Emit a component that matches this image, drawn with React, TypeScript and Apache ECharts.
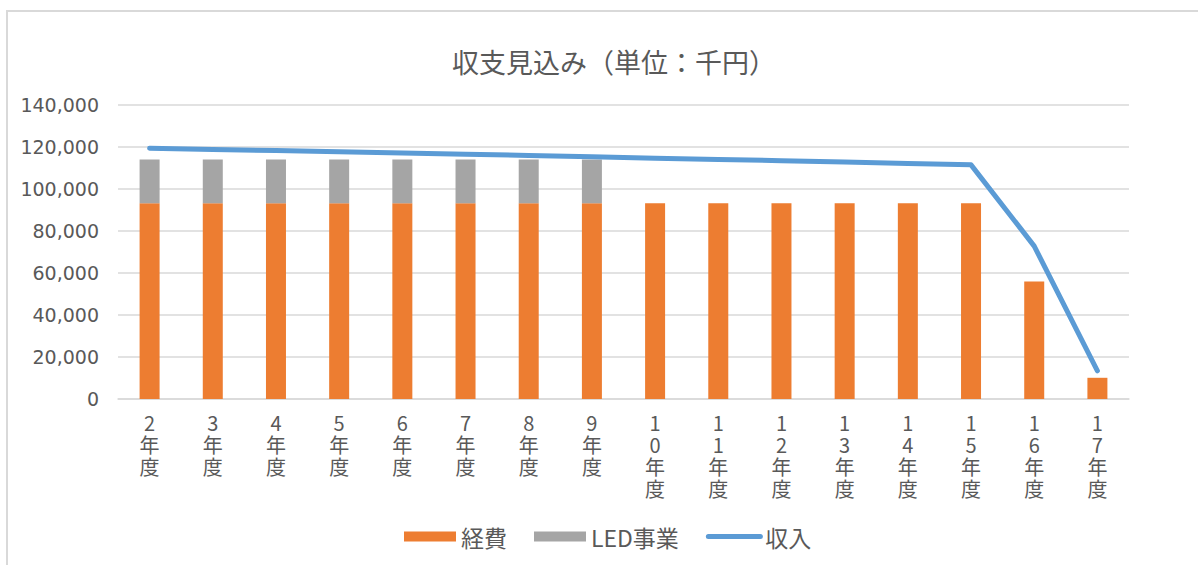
import React, { useEffect, useRef } from "react";
import * as echarts from "echarts";

const categories = [
  "2年度", "3年度", "4年度", "5年度", "6年度", "7年度", "8年度", "9年度",
  "10年度", "11年度", "12年度", "13年度", "14年度", "15年度", "16年度", "17年度",
];
const expenses = [
  93200, 93200, 93200, 93200, 93200, 93200, 93200, 93200,
  93200, 93200, 93200, 93200, 93200, 93200, 56000, 10100,
];
const ledBusiness = [
  20800, 20800, 20800, 20800, 20800, 20800, 20800, 20800,
  null, null, null, null, null, null, null, null,
];
const income = [
  119400, 118800, 118300, 117700, 117100, 116500, 116000, 115400,
  114700, 114100, 113500, 112900, 112200, 111500, 72800, 13400,
];
const seriesNames = ["経費", "LED事業", "収入"];
const titleText = "収支見込み（単位：千円）";

const FONT = "'Noto Sans CJK JP', Roboto, sans-serif";
const TEXT = "#595959";
const GRID = "#d9d9d9";

export default function App() {
  const ref = useRef<HTMLDivElement>(null);
  useEffect(() => {
    if (!ref.current) return;
    const chart = echarts.init(ref.current, undefined, { renderer: "svg" });
    chart.setOption({
      animation: false,
      backgroundColor: "#ffffff",
      textStyle: { fontFamily: FONT },
      title: {
        text: titleText,
        left: 609,
        textAlign: "center",
        top: 43,
        textStyle: { fontFamily: FONT, fontSize: 27, fontWeight: "normal", color: TEXT },
      },
      graphic: [
        { type: "line", shape: { x1: 6, y1: 11, x2: 1198, y2: 11 }, style: { stroke: GRID, lineWidth: 2 } },
        { type: "line", shape: { x1: 7, y1: 11, x2: 7, y2: 565 }, style: { stroke: GRID, lineWidth: 2 } },
      ],
      legend: {
        left: 399,
        top: 520,
        itemWidth: 52,
        itemHeight: 10,
        itemGap: 27,
        textStyle: { fontFamily: FONT, fontSize: 23, color: TEXT },
        data: [
          { name: seriesNames[0], icon: "rect" },
          { name: seriesNames[1], icon: "rect" },
          {
            name: seriesNames[2],
            itemStyle: { opacity: 0 },
            lineStyle: { width: 5, color: "#5b9bd5", cap: "round" },
          },
        ],
      },
      grid: { left: 118, right: 69, top: 105, bottom: 166, containLabel: false },
      xAxis: {
        type: "category",
        data: categories,
        axisLine: { show: true, lineStyle: { color: GRID, width: 1.5 } },
        axisTick: { show: false },
        axisLabel: {
          interval: 0,
          margin: 12,
          color: TEXT,
          fontFamily: FONT,
          fontSize: 20,
          lineHeight: 22,
          formatter: (v: string) => v.split("").join("\n"),
        },
      },
      yAxis: {
        type: "value",
        min: 0,
        max: 140000,
        interval: 20000,
        axisLine: { show: false },
        axisTick: { show: false },
        splitLine: { lineStyle: { color: GRID, width: 1.5 } },
        axisLabel: {
          margin: 19,
          color: TEXT,
          fontFamily: "'DejaVu Sans', sans-serif",
          fontSize: 19,
          formatter: (v: number) => v.toString().replace(/\B(?=(\d{3})+(?!\d))/g, ","),
        },
      },
      series: [
        {
          name: seriesNames[0],
          type: "bar",
          stack: "total",
          data: expenses,
          barWidth: 20,
          itemStyle: { color: "#ed7d31" },
        },
        {
          name: seriesNames[1],
          type: "bar",
          stack: "total",
          data: ledBusiness,
          barWidth: 20,
          itemStyle: { color: "#a5a5a5" },
        },
        {
          name: seriesNames[2],
          type: "line",
          data: income,
          symbol: "none",
          lineStyle: { color: "#5b9bd5", width: 5, cap: "round", join: "round" },
          itemStyle: { color: "#5b9bd5" },
        },
      ],
    });
    return () => chart.dispose();
  }, []);
  return (
    <div
      ref={ref}
      style={{ position: "fixed", left: 0, top: 0, width: 1198, height: 565 }}
    />
  );
}
